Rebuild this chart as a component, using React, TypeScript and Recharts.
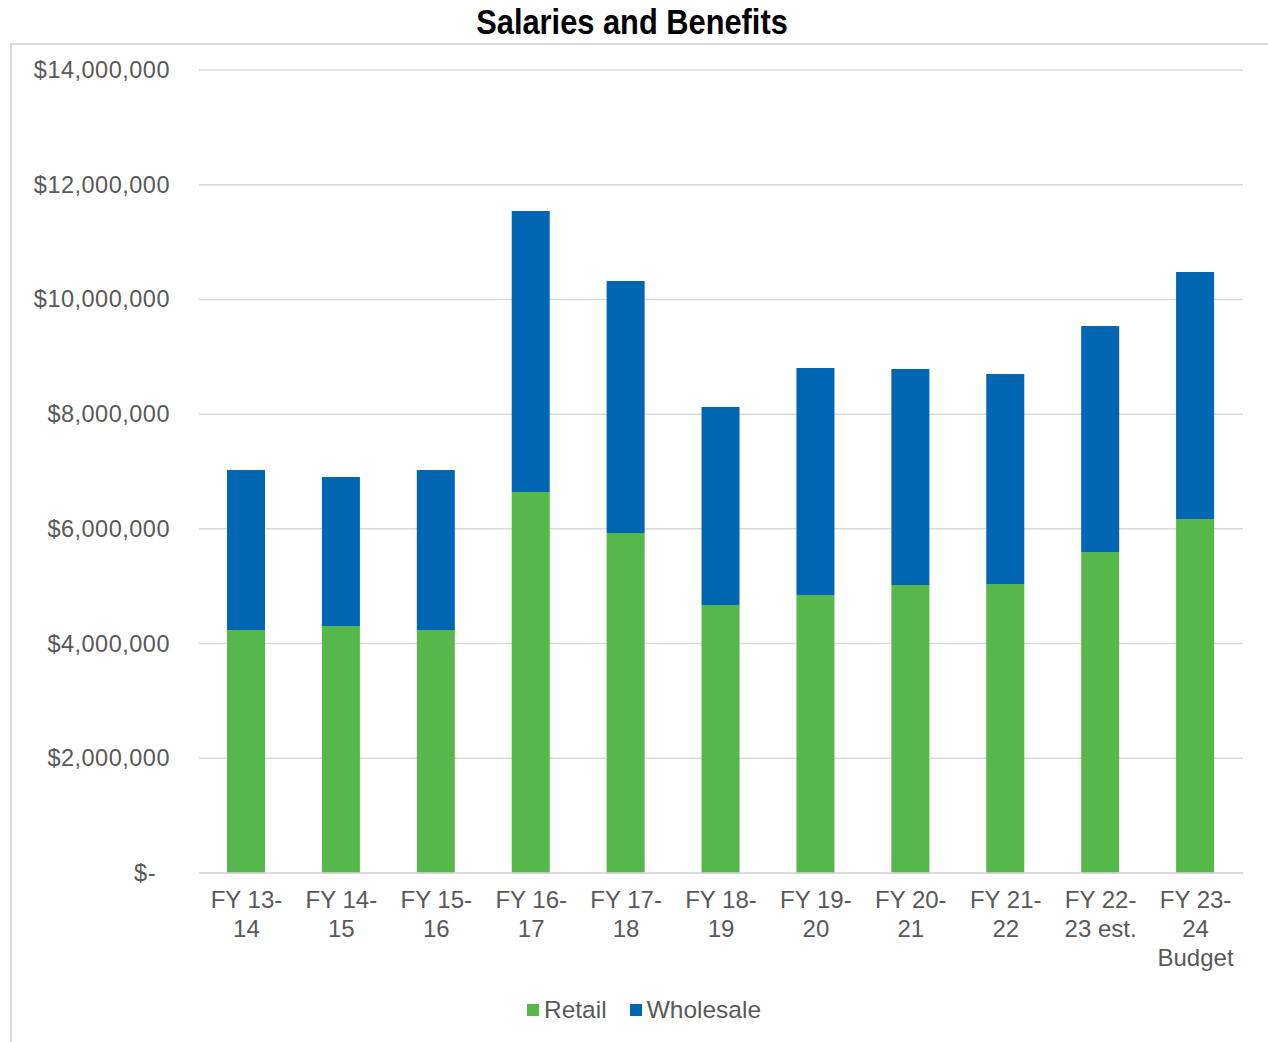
import React from "react";
import { BarChart, Bar, XAxis, YAxis, CartesianGrid, Legend } from "recharts";

const categories = [
  "FY 13-\n14",
  "FY 14-\n15",
  "FY 15-\n16",
  "FY 16-\n17",
  "FY 17-\n18",
  "FY 18-\n19",
  "FY 19-\n20",
  "FY 20-\n21",
  "FY 21-\n22",
  "FY 22-\n23 est.",
  "FY 23-\n24\nBudget",
];
const retail = [4236000, 4306000, 4236000, 6642000, 5927000, 4672000, 4847000, 5021000, 5038000, 5596000, 6172000];
const wholesale = [2790000, 2598000, 2790000, 4899000, 4394000, 3452000, 3957000, 3766000, 3661000, 3940000, 4306000];
const yTicks = [0, 2000000, 4000000, 6000000, 8000000, 10000000, 12000000, 14000000];
const seriesNames = ["Retail", "Wholesale"];
const colors = ["#56B84A", "#0066B3"];

const data = categories.map((c, i) => ({ name: c, Retail: retail[i], Wholesale: wholesale[i] }));

const FONT = "'Liberation Sans', Arial, sans-serif";
const TEXT = "#595959";

const YTick = (props: any) => {
  const { x, y, payload } = props;
  const v = payload.value as number;
  const label = v === 0 ? "$-" : "$" + v.toLocaleString("en-US");
  return (
    <text
      x={v === 0 ? x - 14 : x}
      y={y}
      dy={8}
      textAnchor="end"
      fill={TEXT}
      fontSize={23.5}
      letterSpacing={0.5}
      fontFamily={FONT}
    >
      {label}
    </text>
  );
};

const XTick = (props: any) => {
  const { x, y, payload } = props;
  const lines = String(payload.value).split("\n");
  return (
    <text x={x} y={y} textAnchor="middle" fill={TEXT} fontSize={24} fontFamily={FONT}>
      {lines.map((l, i) => (
        <tspan key={i} x={x} dy={i === 0 ? 27 : 29}>
          {l}
        </tspan>
      ))}
    </text>
  );
};

const LegendContent = () => (
  <div
    style={{
      display: "flex",
      justifyContent: "center",
      height: 30,
      alignItems: "center",
      fontFamily: FONT,
      fontSize: 24.5,
      color: TEXT,
      paddingLeft: 20,
      boxSizing: "border-box",
    }}
  >
    {seriesNames.map((n, i) => (
      <div key={n} style={{ display: "flex", alignItems: "center", marginRight: i === 0 ? 23 : 0 }}>
        <span style={{ display: "inline-block", width: 12, height: 12, background: colors[i], marginRight: 5 }} />
        <span>{n}</span>
      </div>
    ))}
  </div>
);

export default function App() {
  return (
    <div style={{ position: "absolute", left: 0, top: 0, width: 1268, height: 1042, background: "#fff", overflow: "hidden" }}>
      <div
        style={{
          position: "absolute",
          left: 10,
          top: 43,
          width: 1268,
          height: 1042,
          borderLeft: "2px solid #D9D9D9",
          borderTop: "2px solid #D9D9D9",
          boxSizing: "border-box",
        }}
      />
      <div
        style={{
          position: "absolute",
          left: 0,
          top: 2,
          width: 1264,
          textAlign: "center",
          fontFamily: "'Liberation Sans', Arial, sans-serif",
          fontWeight: "bold",
          fontSize: 35,
          color: "#000",
        }}
      >
        <span style={{ display: "inline-block", transform: "scaleX(0.88)" }}>Salaries and Benefits</span>
      </div>
      <div style={{ position: "absolute", left: 0, top: 0 }}>
        <BarChart width={1268} height={1042} data={data} margin={{ top: 70, right: 25, left: 0, bottom: 39 }} barSize={38}>
          <CartesianGrid vertical={false} stroke="#D9D9D9" strokeWidth={1.5} />
          <XAxis
            dataKey="name"
            height={100}
            interval={0}
            tick={<XTick />}
            tickLine={false}
            axisLine={{ stroke: "#D9D9D9", strokeWidth: 1.5 }}
          />
          <YAxis
            width={199}
            domain={[0, 14000000]}
            ticks={yTicks}
            tick={<YTick />}
            tickLine={false}
            axisLine={false}
            tickMargin={23}
          />
          <Legend verticalAlign="bottom" content={<LegendContent />} wrapperStyle={{ left: 0, width: 1268, top: 995 }} />
          {seriesNames.map((n, i) => (
            <Bar key={n} dataKey={n} stackId="a" fill={colors[i]} isAnimationActive={false} />
          ))}
        </BarChart>
      </div>
    </div>
  );
}
